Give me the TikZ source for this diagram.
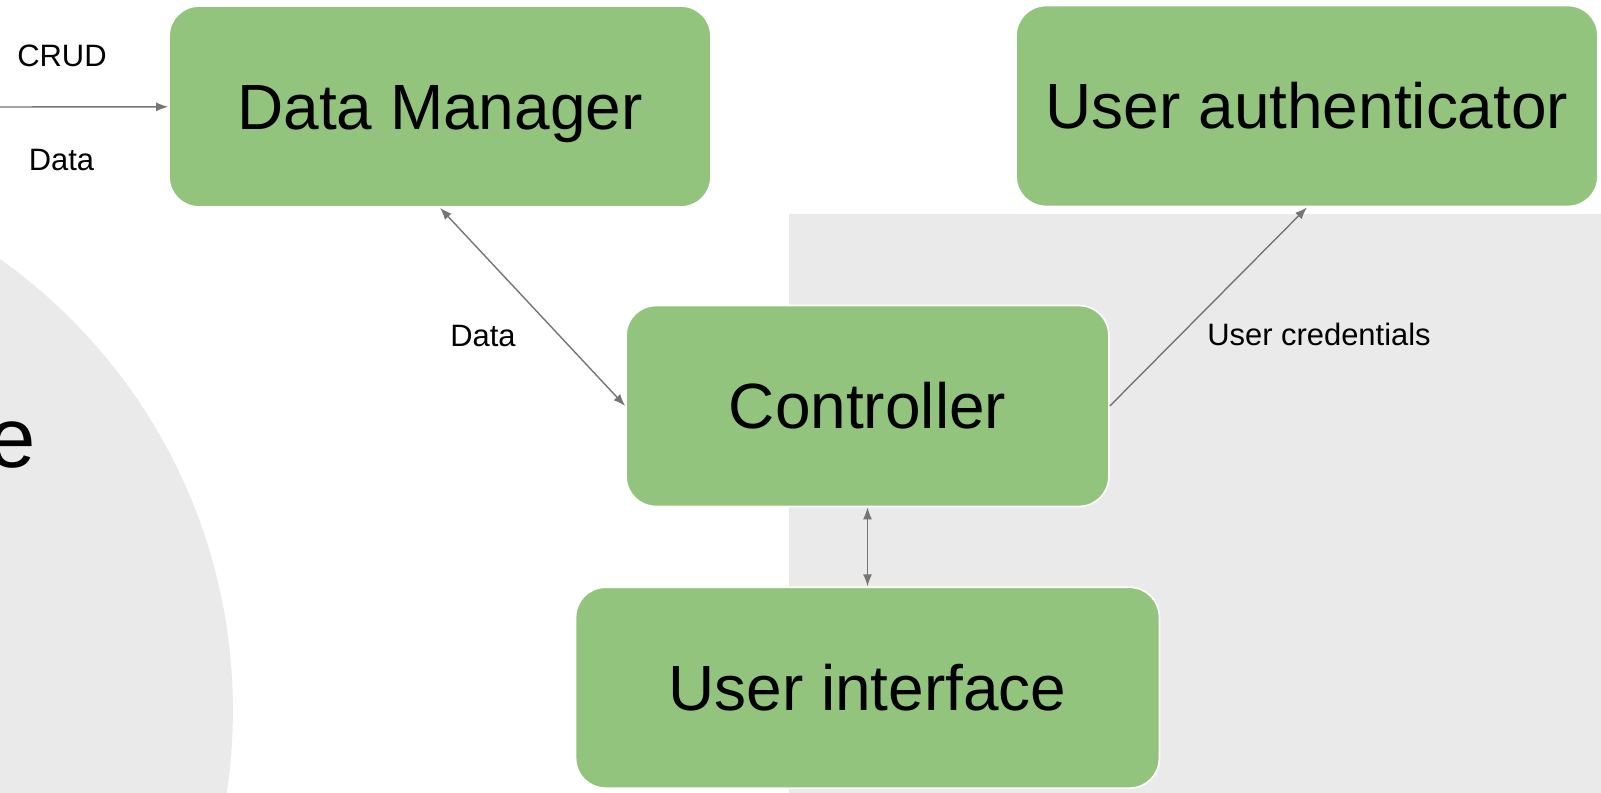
\documentclass[tikz,border=0pt]{standalone}
\usepackage{fontspec}
\setmainfont{Liberation Sans}
\usetikzlibrary{arrows.meta,positioning}
\definecolor{Leaf}{HTML}{93C47D}
\definecolor{Panel}{HTML}{EAEAEA}
\definecolor{Wire}{HTML}{757575}

\begin{document}
\begin{tikzpicture}[
    x=0.02cm, y=-0.02cm,
    block/.style={fill=Leaf, draw=white, line width=1pt, rounded corners=17pt,
      minimum height=4.02cm, inner sep=0pt, text height=26.1pt, text depth=0pt,
      font=\fontsize{36.4}{40}\selectfont},
    note/.style={inner sep=0pt, font=\fontsize{17.6}{20}\selectfont},
    link/.style={-{Latex[length=2.4mm, width=1.8mm]}, line width=0.8pt, draw=Wire},
    both/.style={link, {Latex[length=2.4mm, width=1.8mm]}-{Latex[length=2.4mm, width=1.8mm]}}
  ]
    \useasboundingbox (0,0) rectangle (1601,793);
    \fill[Panel] (789,214) rectangle (1610,800);
    \fill[Panel] (-320,710) circle[radius=11.06cm];
    \node[anchor=base east, inner sep=0pt, font=\fontsize{48.4}{50}\selectfont] (word) at (36,467) {e};

    \node[block, minimum width=10.84cm] (store) at (440,106.5) {Data Manager};
    \node[block, minimum width=11.64cm] (auth) at (1307,106) {User authenticator};
    \node[block, minimum width=9.66cm] (ctrl) at (867.5,406) {Controller};
    \node[block, minimum width=11.68cm, below=1.58cm of ctrl] (ui) {User interface};

    \coordinate (src) at (-5,107);
    \node[note] (crud) at (62,56) {CRUD};
    \node[note] (back) at (61.5,160) {Data};
    \node[note] (flow) at (483,336) {Data};
    \node[note] (cred) at (1319,334) {User credentials};

    \draw[link] (src) -- (store);
    \draw[both] (store.south) -- (ctrl.west);
    \draw[link] (ctrl.east) -- (auth.south);
    \draw[both] (ctrl) -- (ui);
  \end{tikzpicture}
\end{document}
